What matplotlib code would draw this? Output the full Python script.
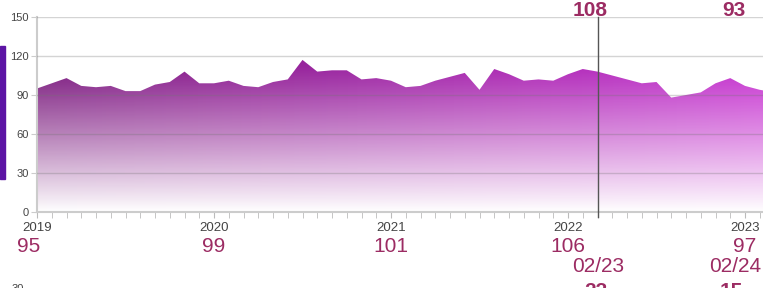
import numpy as np
import matplotlib.pyplot as plt
from matplotlib.patches import Rectangle
from matplotlib.colors import to_rgb

plt.rcParams['font.family'] = ['Liberation Sans', 'DejaVu Sans']

# monthly values, Jan 2019 onwards
values = [95, 99, 103, 97, 96, 97, 93, 93, 98, 100, 108, 99,
          99, 101, 97, 96, 100, 102, 117, 108, 109, 109, 102, 103,
          101, 96, 97, 101, 104, 107, 94, 110, 106, 101, 102, 101,
          106, 110, 108, 105, 102, 99, 100, 88, 90, 92, 99, 103,
          97, 94, 92]
years = ['2019', '2020', '2021', '2022', '2023']
year_values = ['95', '99', '101', '106', '97']
cursor_idx = 38
cursor_value = '108'
cursor_date = '02/23'
cursor_bottom = '23'
last_value = '93'
last_date = '02/24'
last_bottom = '15'

W, H = 763, 288
label_col = '#9c2c63'
grid_col = (0.45, 0.45, 0.45, 0.3)

fig = plt.figure(figsize=(W / 100, H / 100), dpi=100)
ax = fig.add_axes([37 / W, (H - 212) / H, (W - 37) / W, (212 - 17) / H])

x = np.arange(len(values))
y = np.array(values)
xmax = (W - 37) / 14.75

# gradient fill: left->right purple to magenta, fading to white downwards
ny, nx = 300, 300
left = np.array(to_rgb('#7c1c7f'))
right = np.array(to_rgb('#c833d2'))
t = np.linspace(0, 1, nx)
vv = np.linspace(0, 150, ny)
img = np.zeros((ny, nx, 4))
img[:, :, :3] = left[None, None, :] * (1 - t)[None, :, None] + right[None, None, :] * t[None, :, None]
img[:, :, 3] = np.clip((vv / 112) ** 0.95, 0, 1)[:, None]
im = ax.imshow(img, extent=[0, len(values) - 1, 0, 150], origin='lower',
               aspect='auto', zorder=1, interpolation='bilinear')
poly = ax.fill_between(x, 0, y, color='none', lw=0)
im.set_clip_path(poly.get_paths()[0], transform=ax.transData)

for g in [30, 60, 90, 120, 150]:
    ax.axhline(g, color=grid_col, lw=1, zorder=3)

# cursor line
ax.plot([cursor_idx, cursor_idx], [150, -3.6], color='#555555', lw=1,
        clip_on=False, zorder=4)

for s in ['top', 'right']:
    ax.spines[s].set_visible(False)
for s in ['left', 'bottom']:
    ax.spines[s].set_color('#cccccc')
    ax.spines[s].set_linewidth(1.5)

ax.set_yticks([0, 30, 60, 90, 120, 150])
ax.tick_params(axis='y', length=4, color='#cccccc', pad=2, labelsize=8,
               labelcolor='#444444')
ax.set_xticks(np.arange(0, len(values), 12))
ax.set_xticklabels(years)
ax.set_xticks(np.arange(0, len(values)), minor=True)
ax.tick_params(axis='x', which='both', length=4, color='#bbbbbb',
               labelsize=9.5, labelcolor='#444444', pad=3)

# limits last, set_xticks would widen them
ax.set_xlim(0, xmax)
ax.set_ylim(0, 150)

for i, lab in enumerate(year_values):
    dx = -8 if i == 0 else 0
    ax.annotate(lab, xy=(i * 12, 0), xycoords=('data', 'axes fraction'),
                xytext=(dx, -34), textcoords='offset pixels', ha='center',
                va='center', fontsize=15, color=label_col, annotation_clip=False)

# cursor labels
ax.annotate(cursor_value, xy=(cursor_idx, 1), xycoords=('data', 'axes fraction'),
            xytext=(-7, 6), textcoords='offset pixels', ha='center', va='center',
            fontsize=15, fontweight='bold', color=label_col, annotation_clip=False)
ax.annotate(cursor_date, xy=(cursor_idx, 0), xycoords=('data', 'axes fraction'),
            xytext=(1, -54), textcoords='offset pixels', ha='center', va='center',
            fontsize=15, color=label_col, annotation_clip=False)
ax.annotate(cursor_bottom, xy=(cursor_idx, 0), xycoords=('data', 'axes fraction'),
            xytext=(-2, -70), textcoords='offset pixels', ha='center', va='top',
            fontsize=15, fontweight='bold', color=label_col, annotation_clip=False)

# latest value labels at right edge
ax.annotate(last_value, xy=(1, 1), xycoords='axes fraction',
            xytext=(-29, 6), textcoords='offset pixels', ha='center', va='center',
            fontsize=15, fontweight='bold', color=label_col, annotation_clip=False)
ax.annotate(last_date, xy=(1, 0), xycoords='axes fraction',
            xytext=(-28, -54), textcoords='offset pixels', ha='center', va='center',
            fontsize=15, color=label_col, annotation_clip=False)
ax.annotate(last_bottom, xy=(1, 0), xycoords='axes fraction',
            xytext=(-32, -70), textcoords='offset pixels', ha='center', va='top',
            fontsize=15, fontweight='bold', color=label_col, annotation_clip=False)

# left accent bar and cut-off label of the next panel
fig.patches.append(Rectangle((0, 1 - 179 / H), 4.5 / W, 133 / H,
                             transform=fig.transFigure, color='#5c14a4'))
fig.text(18 / W, 1 - 284 / H, '30', ha='center', va='top', fontsize=8,
         color='#444444')

fig.savefig('out.png', dpi=100)
